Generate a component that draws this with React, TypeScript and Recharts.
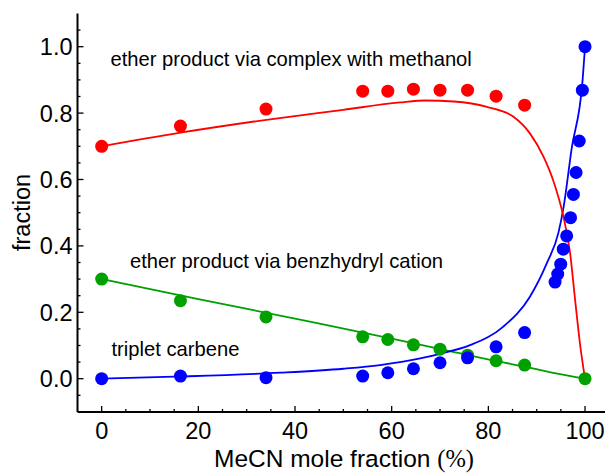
import { ComposedChart, Line, Scatter, XAxis, YAxis } from 'recharts';

// measured points (MeCN mole fraction %, product fraction)
const MECN = [0, 16.3, 34, 54, 59.2, 64.5, 70, 75.7, 81.6, 87.5];
const METHANOL_PTS = [0.7, 0.761, 0.812, 0.866, 0.866, 0.872, 0.869, 0.869, 0.851, 0.824];

const CATION_X = [0, 16.3, 34, 54, 59.2, 64.5, 70, 75.7, 81.6, 87.5, 100];
const CATION_PTS = [0.3, 0.235, 0.186, 0.126, 0.118, 0.102, 0.089, 0.071, 0.054, 0.041, 0];

const TRIPLET_X = [0, 16.3, 34, 54, 59.2, 64.5, 70, 75.7, 81.6, 87.5, 93.8, 94.35, 94.97, 95.5, 96.2, 97.0, 97.6, 98.15, 98.8, 99.45, 100];
const TRIPLET_PTS = [0, 0.008, 0.003, 0.008, 0.018, 0.03, 0.048, 0.063, 0.096, 0.139, 0.291, 0.315, 0.345, 0.39, 0.43, 0.485, 0.555, 0.621, 0.716, 0.869, 1.0];

// fitted curves
const METHANOL_FIT_X = [0, 16.3, 33.7, 50, 61.7, 67, 72.8, 79.7, 85.2, 88.6, 91.4, 93.4, 95.5, 96.9, 98, 99, 100];
const METHANOL_FIT = [0.7, 0.741, 0.779, 0.81, 0.832, 0.838, 0.835, 0.819, 0.789, 0.739, 0.669, 0.598, 0.49, 0.38, 0.23, 0.1, 0];

const CATION_FIT_X = [0, 20, 40, 60, 72, 82, 88, 94, 100];
const CATION_FIT = [0.3, 0.24, 0.181, 0.121, 0.083, 0.052, 0.035, 0.016, 0];

const TRIPLET_FIT_X = [0, 15, 37, 50, 57.6, 65.9, 70, 76.2, 83.1, 88.6, 92.1, 94.5, 95.6, 97.2, 99.5, 100];
const TRIPLET_FIT = [0, 0.006, 0.018, 0.03, 0.041, 0.061, 0.075, 0.101, 0.157, 0.247, 0.348, 0.44, 0.52, 0.69, 0.9, 1.0];

const X_TICKS = [0, 5, 10, 15, 20, 25, 30, 35, 40, 45, 50, 55, 60, 65, 70, 75, 80, 85, 90, 95, 100];
const X_LABELS = [0, 20, 40, 60, 80, 100];
const Y_TICKS = [-0.05, 0, 0.05, 0.1, 0.15, 0.2, 0.25, 0.3, 0.35, 0.4, 0.45, 0.5, 0.55, 0.6, 0.65, 0.7, 0.75, 0.8, 0.85, 0.9, 0.95, 1.0, 1.05];
const Y_LABELS = [0, 0.2, 0.4, 0.6, 0.8, 1.0];

const RED = '#FF0000';
const BLUE = '#0000FF';
const GREEN = '#00A000';
const FONT = "'Liberation Sans', Arial, sans-serif";
const TICK_FS = 23.5;

const zip = (xs: number[], ys: number[]) => xs.map((x, i) => ({ x, y: ys[i] }));

const dot = (color: string) => (p: any) => <circle cx={p.cx} cy={p.cy} r={6.5} fill={color} />;

const BottomTick = ({ x, y, payload }: any) => {
  const major = X_LABELS.includes(payload.value);
  return (
    <g>
      <line x1={x} x2={x} y1={y} y2={y - (major ? 6 : 3)} stroke="#000" strokeWidth={1.3} />
      {major && (
        <text x={x} y={y + 27} textAnchor="middle" fontSize={TICK_FS} fontFamily={FONT} fill="#000">
          {payload.value}
        </text>
      )}
    </g>
  );
};

const TopTick = ({ x, y, payload }: any) => {
  const major = X_LABELS.includes(payload.value);
  return <line x1={x} x2={x} y1={y} y2={y + (major ? 6 : 3)} stroke="#000" strokeWidth={1.3} />;
};

const LeftTick = ({ x, y, payload }: any) => {
  const major = Y_LABELS.includes(payload.value);
  return (
    <g>
      <line x1={x} x2={x + (major ? 6 : 3)} y1={y} y2={y} stroke="#000" strokeWidth={1.3} />
      {major && (
        <text x={x - 5} y={y} dy="0.36em" textAnchor="end" fontSize={TICK_FS} fontFamily={FONT} fill="#000">
          {payload.value.toFixed(1)}
        </text>
      )}
    </g>
  );
};

const RightTick = ({ x, y, payload }: any) => {
  const major = Y_LABELS.includes(payload.value);
  return <line x1={x} x2={x - (major ? 6 : 3)} y1={y} y2={y} stroke="#000" strokeWidth={1.3} />;
};

const axisLine = { stroke: '#000', strokeWidth: 2 };

export default function App() {
  return (
    <div style={{ position: 'absolute', left: 0, top: 0, width: 605, height: 473, overflow: 'hidden', background: '#fff' }}>
      <ComposedChart width={640} height={473} margin={{ top: 13.5, right: 30.8, bottom: 0, left: 0 }}>
        <XAxis
          type="number"
          dataKey="x"
          domain={[-5, 105]}
          ticks={X_TICKS}
          allowDataOverflow
          height={61.1}
          tickSize={0}
          tickMargin={0}
          tickLine={false}
          axisLine={axisLine}
          tick={<BottomTick />}
          interval={0}
        />
        <XAxis
          xAxisId="top"
          orientation="top"
          type="number"
          domain={[-5, 105]}
          ticks={X_TICKS}
          allowDataOverflow
          height={0}
          tickSize={0}
          tickMargin={0}
          tickLine={false}
          axisLine={axisLine}
          tick={<TopTick />}
          interval={0}
        />
        <YAxis
          type="number"
          domain={[-0.1, 1.1]}
          ticks={Y_TICKS}
          allowDataOverflow
          width={77.5}
          tickSize={0}
          tickMargin={0}
          tickLine={false}
          axisLine={axisLine}
          tick={<LeftTick />}
          interval={0}
        />
        <YAxis
          yAxisId="right"
          orientation="right"
          type="number"
          domain={[-0.1, 1.1]}
          ticks={Y_TICKS}
          allowDataOverflow
          width={0}
          tickSize={0}
          tickMargin={0}
          tickLine={false}
          axisLine={axisLine}
          tick={<RightTick />}
          interval={0}
        />
        <Scatter data={zip(MECN, METHANOL_PTS)} dataKey="y" shape={dot(RED)} isAnimationActive={false} />
        <Scatter data={zip(CATION_X, CATION_PTS)} dataKey="y" shape={dot(GREEN)} isAnimationActive={false} />
        <Scatter data={zip(TRIPLET_X, TRIPLET_PTS)} dataKey="y" shape={dot(BLUE)} isAnimationActive={false} />
        <Line data={zip(CATION_FIT_X, CATION_FIT)} dataKey="y" type="monotone" stroke={GREEN} strokeWidth={1.8} dot={false} isAnimationActive={false} />
        <Line data={zip(TRIPLET_FIT_X, TRIPLET_FIT)} dataKey="y" type="monotone" stroke={BLUE} strokeWidth={1.8} dot={false} isAnimationActive={false} />
        <Line data={zip(METHANOL_FIT_X, METHANOL_FIT)} dataKey="y" type="monotone" stroke={RED} strokeWidth={1.8} dot={false} isAnimationActive={false} />
      </ComposedChart>
      <svg width={605} height={473} style={{ position: 'absolute', left: 0, top: 0, pointerEvents: 'none' }}>
        <g fontFamily={FONT} fill="#000">
          <text x={110.5} y={65.5} fontSize={20.2}>ether product via complex with methanol</text>
          <text x={130} y={268} fontSize={20.2}>ether product via benzhydryl cation</text>
          <text x={111.5} y={356} fontSize={20.2}>triplet carbene</text>
          <text x={344} y={466.5} fontSize={24.5} textAnchor="middle">
            MeCN mole fraction <tspan fontFamily="'Liberation Serif', 'Times New Roman', serif">(%)</tspan>
          </text>
          <text x={30} y={212.5} fontSize={23.5} textAnchor="middle" transform="rotate(-90 30 212.5)">fraction</text>
        </g>
      </svg>
    </div>
  );
}
